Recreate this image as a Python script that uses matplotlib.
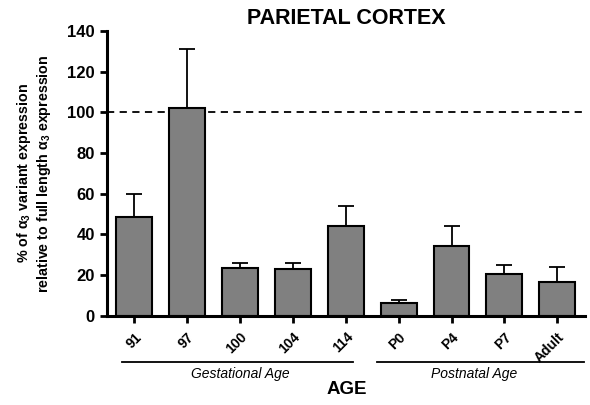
import matplotlib
matplotlib.use("Agg")
import matplotlib.pyplot as plt

plt.rcParams['font.family'] = ['Liberation Sans', 'DejaVu Sans']
plt.rcParams['mathtext.fontset'] = 'custom'
plt.rcParams['mathtext.rm'] = 'Liberation Sans'
plt.rcParams['mathtext.it'] = 'Liberation Sans:italic'
plt.rcParams['mathtext.bf'] = 'Liberation Sans:bold'

categories = ["91", "97", "100", "104", "114", "P0", "P4", "P7", "Adult"]
means = [48.8, 102.3, 23.6, 23.0, 44.0, 6.5, 34.5, 20.5, 16.5]
errors = [11.0, 28.8, 2.2, 2.8, 10.0, 1.2, 9.5, 4.5, 7.5]
groups = ["Gestational Age", "Postnatal Age"]
yticks = [0, 20, 40, 60, 80, 100, 120, 140]

fig = plt.figure(figsize=(5.9, 4.05), dpi=100)
ax = fig.add_axes([0.181, 0.22, 0.811, 0.704])

x = list(range(len(categories)))
ax.bar(x, means, width=0.68, color='#808080', edgecolor='black', linewidth=1.5, zorder=2)
ax.errorbar(x, means, yerr=[[0]*len(errors), errors], fmt='none', ecolor='black',
            elinewidth=1.3, capsize=6, capthick=1.3, zorder=3)
ax.axhline(100, color='black', linestyle=(0, (4, 3)), linewidth=1.3, zorder=1)

ax.set_xlim(-0.52, 8.53)
ax.set_ylim(0, 140)
ax.set_yticks(yticks)
ax.set_yticklabels([str(t) for t in yticks], fontsize=12, fontweight='bold')
ax.set_xticks(x)
ax.set_xticklabels(categories, rotation=45, ha='right', rotation_mode='anchor',
                   fontsize=10, fontweight='bold')
ax.tick_params(axis='both', direction='out', width=2, length=5)
ax.tick_params(axis='x', pad=5)
for s in ['top', 'right']:
    ax.spines[s].set_visible(False)
for s in ['left', 'bottom']:
    ax.spines[s].set_linewidth(2.2)

ax.set_title("PARIETAL CORTEX", fontsize=15.5, fontweight='bold', pad=5)
ax.set_ylabel("% of $\\mathregular{\\alpha_3}$ variant expression\nrelative to full length $\\mathregular{\\alpha_3}$ expression",
              fontsize=10.3, fontweight='bold', labelpad=10)

# group lines (figure coordinates)
fig.add_artist(plt.Line2D([122/590, 353/590], [1-362/405, 1-362/405], color='black', linewidth=1.3))
fig.add_artist(plt.Line2D([377/590, 584/590], [1-362/405, 1-362/405], color='black', linewidth=1.3))
fig.text(240/590, 1-374/405, groups[0], fontsize=10, style='italic', ha='center', va='center')
fig.text(474/590, 1-374/405, groups[1], fontsize=10, style='italic', ha='center', va='center')
fig.text(347/590, 1-389/405, "AGE", fontsize=13.5, fontweight='bold', ha='center', va='center')

fig.savefig("out.png", dpi=100)
